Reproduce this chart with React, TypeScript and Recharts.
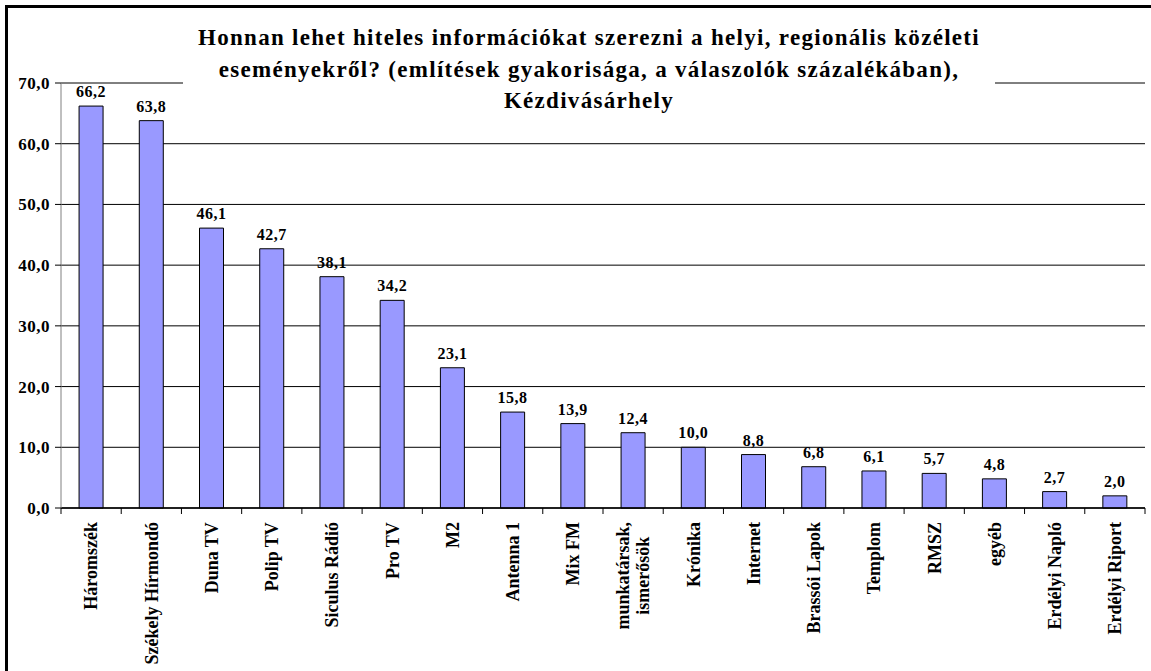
import React from "react";
import {
  BarChart,
  Bar,
  XAxis,
  YAxis,
  CartesianGrid,
  LabelList,
} from "recharts";

const titleLines = [
  "Honnan lehet hiteles információkat szerezni a helyi, regionális közéleti",
  "eseményekről? (említések gyakorisága, a válaszolók százalékában),",
  "Kézdivásárhely",
];

const categories = [
  "Háromszék",
  "Székely Hírmondó",
  "Duna TV",
  "Polip TV",
  "Siculus Rádió",
  "Pro TV",
  "M2",
  "Antenna 1",
  "Mix FM",
  "munkatársak,\nismerősök",
  "Krónika",
  "Internet",
  "Brassói Lapok",
  "Templom",
  "RMSZ",
  "egyéb",
  "Erdélyi Napló",
  "Erdélyi Riport",
];

const values = [
  66.2, 63.8, 46.1, 42.7, 38.1, 34.2, 23.1, 15.8, 13.9, 12.4, 10.0, 8.8, 6.8,
  6.1, 5.7, 4.8, 2.7, 2.0,
];

const yTicks = [0, 10, 20, 30, 40, 50, 60, 70];

const data = categories.map((name, i) => ({ name, value: values[i] }));

const FONT = '"Liberation Serif", "Times New Roman", serif';
const fmt = (v: number) => v.toFixed(1).replace(".", ",");

let measureCtx: CanvasRenderingContext2D | null = null;
function textWidth(s: string, size: number) {
  if (!measureCtx) measureCtx = document.createElement("canvas").getContext("2d");
  if (!measureCtx) return s.length * size * 0.5;
  measureCtx.font = `bold ${size}px ${FONT}`;
  return measureCtx.measureText(s).width;
}

const CatTick = (props: any) => {
  const { x, y, payload, index, width, visibleTicksCount } = props;
  const n = visibleTicksCount || categories.length;
  const half = (width || 1084) / n / 2;
  const size = 18;
  const lh = 20;
  const lines = String(payload.value).split("\n");
  const longest = Math.max(...lines.map((l) => textWidth(l, size)));
  const top = y + 14;
  return (
    <g>
      <line x1={x - half} x2={x - half} y1={y} y2={y + 6} stroke="#000" />
      {index === n - 1 && (
        <line x1={x + half} x2={x + half} y1={y} y2={y + 6} stroke="#000" />
      )}
      <text
        transform={`translate(${x},${top}) rotate(-90)`}
        textAnchor="middle"
        fontFamily={FONT}
        fontWeight="bold"
        fontSize={size}
        fill="#000"
      >
        {lines.map((l, i) => (
          <tspan
            key={i}
            x={-longest / 2}
            dy={i === 0 ? -((lines.length - 1) * lh) / 2 + size * 0.35 : lh}
          >
            {l}
          </tspan>
        ))}
      </text>
    </g>
  );
};

export default function App() {
  return (
    <div
      style={{
        position: "absolute",
        left: 0,
        top: 0,
        width: 1151,
        height: 671,
        overflow: "hidden",
        background: "#fff",
      }}
    >
      <div
        style={{
          position: "absolute",
          left: 5,
          top: 5,
          width: 1200,
          height: 700,
          border: "3px solid #000",
        }}
      />
      <div style={{ position: "absolute", left: 0, top: 0 }}>
        <BarChart
          width={1151}
          height={671}
          data={data}
          margin={{ top: 83, right: 6, left: 0, bottom: 0 }}
          barCategoryGap="30%"
        >
          <CartesianGrid vertical={false} stroke="#000" strokeOpacity={1} />
          <XAxis
            dataKey="name"
            interval={0}
            height={163}
            tickLine={false}
            tickSize={0}
            tickMargin={0}
            axisLine={{ stroke: "#000", strokeWidth: 1.5 }}
            tick={<CatTick />}
          />
          <YAxis
            width={61}
            domain={[0, 70]}
            ticks={yTicks}
            interval={0}
            tickSize={6}
            tickMargin={5}
            tickFormatter={fmt}
            axisLine={{ stroke: "#808080" }}
            tickLine={{ stroke: "#000" }}
            tick={{
              fill: "#000",
              fontFamily: FONT,
              fontWeight: "bold",
              fontSize: 17,
              letterSpacing: 0.5,
            }}
          />
          <Bar
            dataKey="value"
            fill="#9999FF"
            stroke="#000"
            strokeWidth={1}
            isAnimationActive={false}
          >
            <LabelList
              dataKey="value"
              position="top"
              offset={9}
              formatter={(v: any) => fmt(Number(v))}
              style={{
                fill: "#000",
                fontFamily: FONT,
                fontWeight: "bold",
                fontSize: 16,
                letterSpacing: 0.5,
              }}
            />
          </Bar>
        </BarChart>
      </div>
      <div
        style={{
          position: "absolute",
          left: 183,
          top: 18,
          width: 812,
          height: 100,
          background: "#fff",
        }}
      />
      <div
        style={{
          position: "absolute",
          left: 183,
          top: 22,
          width: 812,
          textAlign: "center",
          fontFamily: FONT,
          fontWeight: "bold",
          fontSize: 23,
          letterSpacing: 1.3,
          lineHeight: "31.5px",
          color: "#000",
          whiteSpace: "nowrap",
        }}
      >
        {titleLines.map((t, i) => (
          <div key={i}>{t}</div>
        ))}
      </div>
    </div>
  );
}
